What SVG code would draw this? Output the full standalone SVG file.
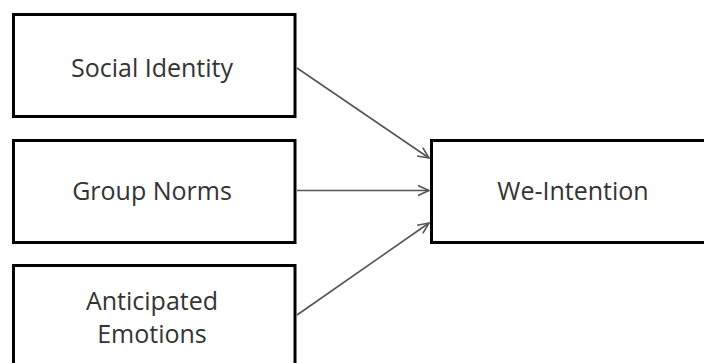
<svg xmlns="http://www.w3.org/2000/svg" width="704" height="363" viewBox="0 0 704 363">
<style>
.box{fill:#fff;stroke:#000;stroke-width:3}
.lbl{font-family:"Open Sans","Liberation Sans",sans-serif;font-size:25px;fill:#333;text-anchor:middle}
.conn{stroke:#555;stroke-width:1.6;fill:none;marker-end:url(#arr)}
</style>
<defs>
<marker id="arr" markerUnits="userSpaceOnUse" markerWidth="14" markerHeight="14" refX="12" refY="6" orient="auto">
<path d="M1,1 L12,6 L1,11" fill="none" stroke="#555" stroke-width="1.6"/>
</marker>
</defs>
<rect width="704" height="363" fill="#fff"/>
<g id="connectors">
<line class="conn" x1="297" y1="68" x2="429" y2="158"/>
<line class="conn" x1="297" y1="190.5" x2="429" y2="190.5"/>
<line class="conn" x1="297" y1="315" x2="429" y2="223"/>
</g>
<g id="social-identity">
<rect class="box" x="13.5" y="14.5" width="281.5" height="102"/>
<text class="lbl" x="152" y="77">Social Identity</text>
</g>
<g id="group-norms">
<rect class="box" x="13.5" y="140.5" width="281.5" height="102"/>
<text class="lbl" x="152" y="200">Group Norms</text>
</g>
<g id="anticipated-emotions">
<rect class="box" x="13.5" y="265.5" width="281.5" height="110"/>
<text class="lbl" x="152" y="310">Anticipated</text>
<text class="lbl" x="152" y="343">Emotions</text>
</g>
<g id="we-intention">
<rect class="box" x="431.5" y="140.5" width="290" height="102"/>
<text class="lbl" x="573" y="200">We-Intention</text>
</g>
</svg>
